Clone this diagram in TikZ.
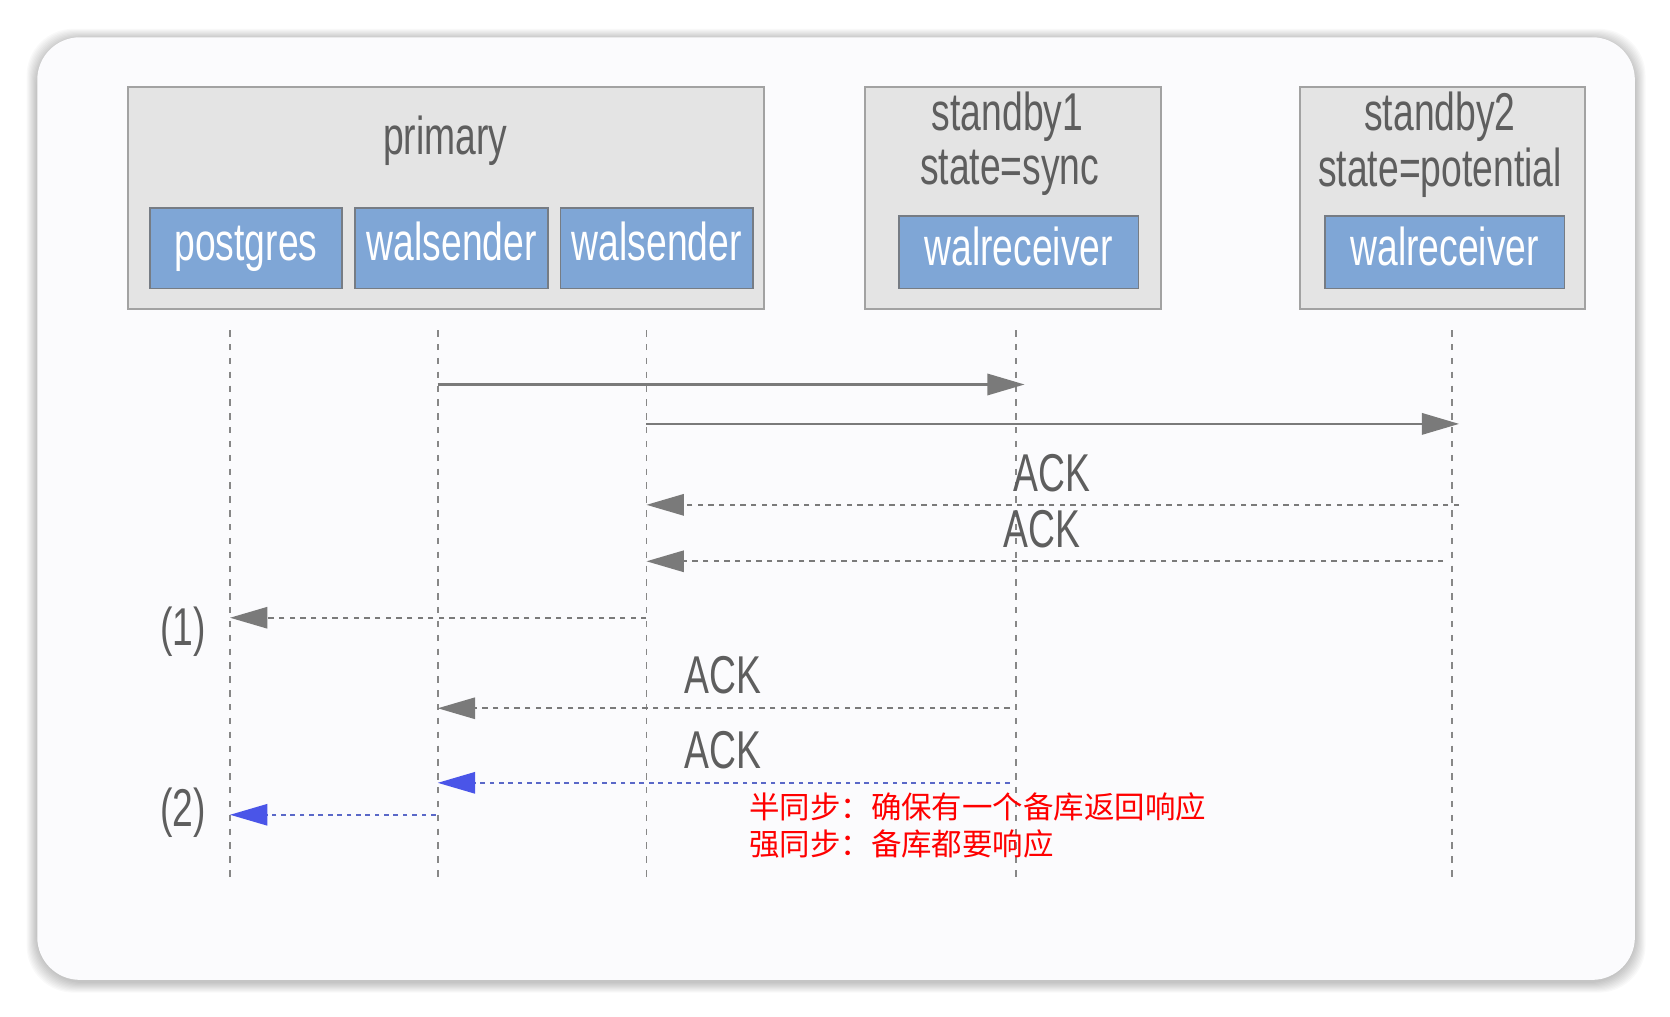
\documentclass[tikz,border=0pt]{standalone}
\usepackage{fontspec}
\usepackage{tikz}
\usetikzlibrary{arrows.meta,positioning,calc}
\newfontfamily\lbl{Liberation Sans}[FakeStretch=0.70]
\newfontfamily\cjk{Noto Sans CJK SC}
\definecolor{cardbg}{HTML}{FBFBFD}
\definecolor{hostfill}{HTML}{E4E4E4}
\definecolor{hostline}{HTML}{A2A2A2}
\definecolor{procfill}{HTML}{7FA6D6}
\definecolor{procline}{HTML}{767C84}
\definecolor{msggray}{HTML}{7A7A7A}
\definecolor{txtgray}{HTML}{5E5E5E}
\definecolor{syncblue}{HTML}{4A55E8}
\definecolor{dotblue}{HTML}{5A68C8}
\tikzset{
    host/.style={draw=hostline, fill=hostfill, line width=0.9pt, inner sep=0pt},
    proc/.style={draw=procline, fill=procfill, line width=0.8pt, text=white, inner sep=0pt,
        minimum height=38pt, text height=16pt, text depth=4pt, font=\lbl\fontsize{25}{28}\selectfont},
    title/.style={text=txtgray, inner sep=0pt, font=\lbl\fontsize{25}{28}\selectfont},
    lifeline/.style={draw=msggray!90, line width=0.8pt, dash pattern=on 3pt off 3.5pt},
    msg/.style={-{Triangle[length=17.5pt, width=10pt]}, line width=1.2pt, msggray},
    ack/.style={-{Triangle[length=17.5pt, width=10pt]}, line width=0.9pt, msggray, dash pattern=on 2.5pt off 2.5pt},
    syncack/.style={-{Triangle[length=17.5pt, width=10pt, color=syncblue]}, line width=0.9pt, dotblue, dash pattern=on 2.2pt off 2.2pt}
}
\begin{document}
\begin{tikzpicture}[x=0.5pt, y=-0.5pt]
    \useasboundingbox (0,0) rectangle (1568,954);
    \fill[white] (0,0) rectangle (1568,954);
    % card with soft shadow
    \foreach \i in {1,...,10}
        \fill[black, opacity=0.025, rounded corners=22pt] (35-\i,37-\i) rectangle (1535+\i,922+\i);
    \fill[cardbg, rounded corners=20pt] (35,35) rectangle (1535,920);

    % hosts
    \node[host, minimum width=298.5pt, minimum height=104pt] (prim) at (418.5,186) {};
    \node[host, minimum width=139pt, minimum height=104pt] (sb1) at (951,186) {};
    \node[host, minimum width=133.5pt, minimum height=104pt] (sb2) at (1354.5,186) {};
    \node[title] at (418,132) {primary};
    \node[title] at (946,110) {standby1};
    \node[title] at (948,162) {state=sync};
    \node[title] at (1352,110) {standby2};
    \node[title] at (1352,162) {state=potential};

    % processes
    \node[proc, minimum width=90pt] (pg) at (231,233) {postgres};
    \node[proc, minimum width=90.5pt, right=5.5pt of pg] (ws1) {walsender};
    \node[proc, minimum width=90.5pt, right=5pt of ws1] (ws2) {walsender};
    \node[proc, minimum width=112.5pt, minimum height=34pt] (wr1) at (956.5,237) {walreceiver};
    \node[proc, minimum width=112.5pt, minimum height=34pt] (wr2) at (1356.5,237) {walreceiver};

    % lifelines
    \coordinate (pgT) at (216,310);  \coordinate (pgB) at (216,830);
    \coordinate (ws1T) at (411,310); \coordinate (ws1B) at (411,830);
    \coordinate (ws2T) at (607,310); \coordinate (ws2B) at (607,830);
    \coordinate (wr1T) at (954,310); \coordinate (wr1B) at (954,830);
    \coordinate (wr2T) at (1363,310); \coordinate (wr2B) at (1363,830);
    \draw[lifeline] (pgT) -- (pgB);
    \draw[lifeline] (ws1T) -- (ws1B);
    \draw[lifeline] (ws2T) -- (ws2B);
    \draw[lifeline] (wr1T) -- (wr1B);
    \draw[lifeline] (wr2T) -- (wr2B);

    % message ends
    \coordinate (m1a) at (411,361);  \coordinate (m1b) at (962,361);
    \coordinate (m2a) at (607,398);  \coordinate (m2b) at (1370,398);
    \coordinate (a1a) at (1370,474); \coordinate (a1b) at (607,474);
    \coordinate (a2a) at (1355,527); \coordinate (a2b) at (607,527);
    \coordinate (r1a) at (607,580);  \coordinate (r1b) at (216,580);
    \coordinate (a3a) at (948,665);  \coordinate (a3b) at (411,665);
    \coordinate (a4a) at (948,735);  \coordinate (a4b) at (411,735);
    \coordinate (r2a) at (409,765);  \coordinate (r2b) at (216,765);

    \draw[msg] (m1a) -- (m1b);
    \draw[msg] (m2a) -- (m2b);
    \draw[ack] (a1a) -- (a1b);
    \draw[ack] (a2a) -- (a2b);
    \draw[ack] (r1a) -- (r1b);
    \draw[ack] (a3a) -- (a3b);
    \draw[syncack] (a4a) -- (a4b);
    \draw[syncack] (r2a) -- (r2b);

    % labels
    \node[title] (ack1) at (988,444) {ACK};
    \node[title] (ack2) at (978,497) {ACK};
    \node[title] (ack3) at (679,634) {ACK};
    \node[title] (ack4) at (679,704) {ACK};
    \node[title] (one) at (172,593) {(1)};
    \node[title] (two) at (172,763) {(2)};
    \node[anchor=north west, inner sep=0pt, align=left, text=red,
        font=\cjk\fontsize{14.3}{17.5}\selectfont] (note) at (703,744)
        {半同步：确保有一个备库返回响应\\强同步：备库都要响应};
\end{tikzpicture}
\end{document}
